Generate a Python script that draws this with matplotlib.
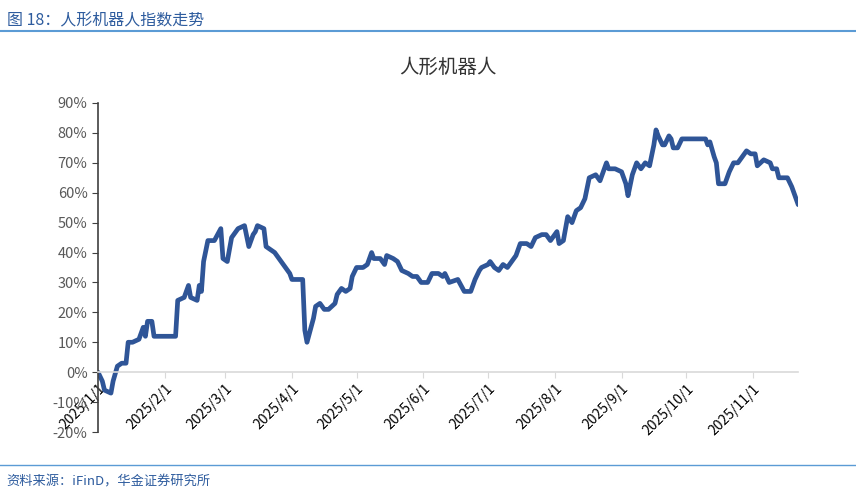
import numpy as np
import matplotlib.pyplot as plt

plt.rcParams['font.family'] = ['Noto Sans CJK SC', 'DejaVu Sans']

# (days since 2025-01-01, index change %)
points = [
    (0, 0), (2, -3), (3, -6), (6, -7), (7, -3), (9, 2), (11, 3), (13, 3), (14, 10), (16, 10),
    (19, 11), (21, 15), (22, 12), (23, 17), (25, 17), (26, 12), (36, 12), (37, 24), (40, 25), (42, 29),
    (43, 25), (46, 24), (47, 29), (48, 27), (49, 37), (51, 44), (54, 44), (57, 48), (58, 38), (60, 37),
    (62, 45), (65, 48), (68, 49), (70, 42), (72, 46), (73, 47), (74, 49), (77, 48), (78, 42), (82, 40),
    (85, 37), (87, 35), (89, 33), (90, 31), (95, 31), (96, 14), (97, 10), (100, 18), (101, 22), (103, 23),
    (105, 21), (107, 21), (110, 23), (111, 26), (113, 28), (115, 27), (117, 28), (118, 32), (120, 35), (123, 35),
    (125, 36), (127, 40), (128, 38), (131, 38), (133, 36), (134, 39), (137, 38), (139, 37), (141, 34), (144, 33),
    (146, 32), (148, 32), (150, 30), (153, 30), (155, 33), (158, 33), (160, 32), (161, 33), (163, 30), (167, 31),
    (170, 27), (173, 27), (175, 31), (177, 34), (178, 35), (181, 36), (182, 37), (184, 35), (186, 34), (188, 36),
    (190, 35), (193, 38), (194, 39), (196, 43), (199, 43), (201, 42), (203, 45), (206, 46), (208, 46), (210, 44),
    (213, 47), (214, 43), (216, 44), (218, 52), (220, 50), (222, 54), (224, 55), (226, 58), (228, 65), (231, 66),
    (233, 64), (236, 70), (237, 68), (240, 68), (243, 67), (245, 63), (246, 59), (248, 66), (250, 70), (252, 68),
    (254, 70), (256, 69), (258, 76), (259, 81), (260, 79), (262, 76), (263, 76), (265, 79), (266, 78), (267, 75),
    (269, 75), (271, 78), (273, 78), (277, 78), (280, 78), (282, 78), (283, 76), (284, 77), (286, 72), (287, 70),
    (288, 63), (291, 63), (293, 67), (295, 70), (297, 70), (299, 72), (301, 74), (303, 73), (305, 73), (306, 69),
    (309, 71), (312, 70), (313, 68), (315, 68), (316, 65), (319, 65), (320, 65), (322, 62), (323, 60), (325, 56),
]
day_offsets = np.array([p[0] for p in points])
values = np.array([p[1] for p in points])
dates = np.datetime64('2025-01-01') + day_offsets.astype('timedelta64[D]')
tick_dates = [np.datetime64(f'2025-{m:02d}-01') for m in range(1, 12)]
tick_labels = [f'2025/{m}/1' for m in range(1, 12)]

fig = plt.figure(figsize=(8.56, 4.94), dpi=100)
blue = '#2F5597'

# header and footer
fig.text(0.008, 0.975, '图 18：人形机器人指数走势', color='#2E5C9E', fontsize=11.5, va='top')
fig.add_artist(plt.Line2D([0.0, 1.0], [0.938, 0.938], color='#5B9BD5', lw=1.5))
fig.add_artist(plt.Line2D([0.0, 1.0], [0.058, 0.058], color='#5B9BD5', lw=1.0))
fig.text(0.008, 0.025, '资料来源：iFinD，华金证券研究所', color='#2E5C9E', fontsize=9.5,
         va='center', style='italic')

ax = fig.add_axes([0.1145, 0.1255, 0.818, 0.666])
ax.plot(dates, values, color=blue, lw=3.4, solid_joinstyle='round', solid_capstyle='round')
ax.set_title('人形机器人', fontsize=14, color='#333333', pad=22)

ax.set_ylim(-20, 90)
ax.set_yticks(range(-20, 91, 10))
ax.set_yticklabels([f'{v}%' for v in range(-20, 91, 10)], fontsize=10.5, color='#595959')
ax.set_xlim(np.datetime64('2025-01-01'), np.datetime64('2025-11-22'))
ax.set_xticks(tick_dates)
ax.set_xticklabels(tick_labels, fontsize=10.5, color='#595959')

ax.spines['top'].set_visible(False)
ax.spines['right'].set_visible(False)
ax.spines['left'].set_color('#404040')
ax.spines['left'].set_linewidth(1.2)
ax.spines['bottom'].set_position(('data', 0))
ax.spines['bottom'].set_color('#D9D9D9')
ax.spines['bottom'].set_linewidth(1.2)
ax.tick_params(axis='y', length=4, color='#404040')
ax.tick_params(axis='x', length=4, color='#D9D9D9', pad=3)
for lbl in ax.get_xticklabels():
    lbl.set_rotation(45)
    lbl.set_ha('right')
    lbl.set_va('top')
    lbl.set_rotation_mode('anchor')

fig.savefig('out.png', dpi=100)
